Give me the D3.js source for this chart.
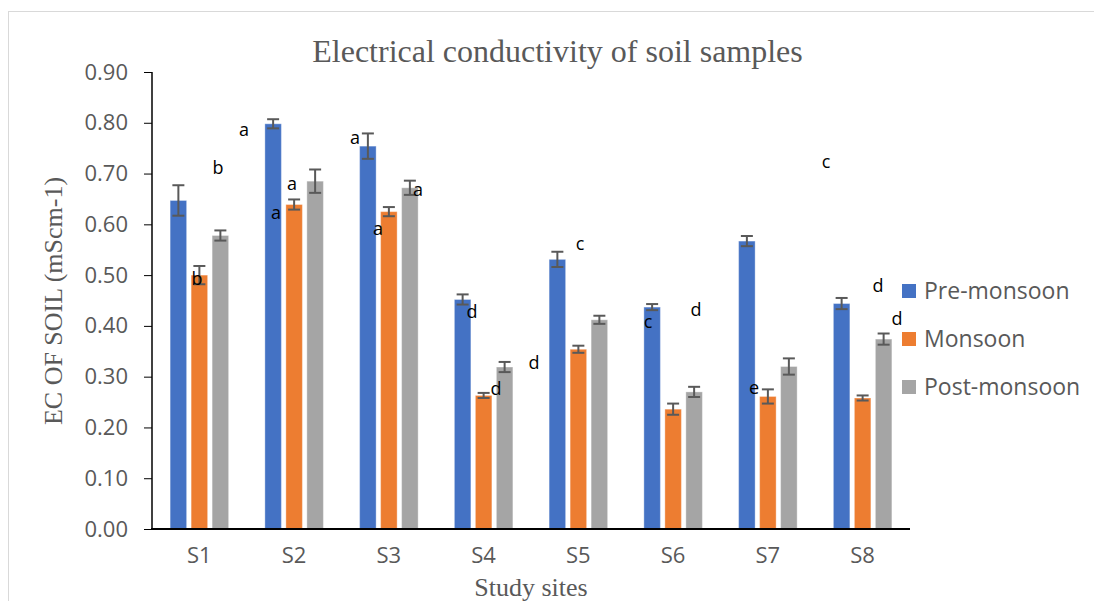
<!DOCTYPE html>
<html>
<head>
<meta charset="utf-8">
<script src="https://cdn.jsdelivr.net/npm/d3@7"></script>
<style>
  html, body { margin: 0; padding: 0; background: #fff; }
  svg { display: block; }
</style>
</head>
<body>
<div id="chart"></div>
<script>
// ---- data ----
const sites = ["S1", "S2", "S3", "S4", "S5", "S6", "S7", "S8"];
const seriesNames = ["Pre-monsoon", "Monsoon", "Post-monsoon"];
const preMonsoon  = [0.647, 0.798, 0.754, 0.452, 0.531, 0.437, 0.567, 0.444];
const monsoon     = [0.500, 0.639, 0.625, 0.263, 0.354, 0.236, 0.261, 0.258];
const postMonsoon = [0.578, 0.685, 0.672, 0.319, 0.412, 0.270, 0.320, 0.374];
const preErr      = [0.030, 0.009, 0.025, 0.010, 0.015, 0.006, 0.010, 0.011];
const monErr      = [0.018, 0.010, 0.009, 0.005, 0.007, 0.011, 0.014, 0.005];
const postErr     = [0.010, 0.023, 0.014, 0.010, 0.008, 0.010, 0.016, 0.011];
const yTicks      = [0, 0.1, 0.2, 0.3, 0.4, 0.5, 0.6, 0.7, 0.8, 0.9];
// letter annotations: label, position in site units (0..8), value units
const annLabels = ["a", "b", "b", "a", "a", "a", "a", "a", "d", "d", "d", "c", "c", "d", "c", "e", "d", "d"];
const annSitePos = [0.971, 0.697, 0.475, 1.478, 1.309, 2.142, 2.807, 2.385, 3.377, 3.631, 4.032, 4.517, 5.235, 5.741, 7.113, 6.354, 7.662, 7.863];
const annValue   = [0.786, 0.711, 0.492, 0.681, 0.622, 0.770, 0.668, 0.591, 0.427, 0.276, 0.327, 0.561, 0.408, 0.431, 0.723, 0.278, 0.479, 0.414];

const colors = ["#4472C4", "#ED7D31", "#A5A5A5"];
const seriesValues = [preMonsoon, monsoon, postMonsoon];
const seriesErrors = [preErr, monErr, postErr];

const W = 1094, H = 601;
const mLeft = 152, mRight = 910, mTop = 72, mBottom = 529;
const textGray = "#595959";

const svg = d3.select("#chart").append("svg")
  .attr("width", W).attr("height", H);

// outer frame
svg.append("rect")
  .attr("x", 8.5).attr("y", 11.5)
  .attr("width", W + 20).attr("height", H + 20)
  .attr("fill", "none").attr("stroke", "#d9d9d9").attr("stroke-width", 1);

const y = d3.scaleLinear().domain([0, 0.9]).range([mBottom, mTop]);
const x0 = d3.scaleBand().domain(sites).range([mLeft, mRight]).padding(0);
const x1 = d3.scaleBand().domain(seriesNames).range([-31.5, 31.5])
  .paddingInner(0.214).paddingOuter(0.107);
const xPos = d3.scaleLinear().domain([0, sites.length]).range([mLeft, mRight]);

// title
svg.append("text")
  .attr("x", 557.5).attr("y", 61.5)
  .attr("text-anchor", "middle")
  .attr("font-family", "'Liberation Serif', 'Times New Roman', serif")
  .attr("font-size", 32).attr("fill", textGray)
  .text("Electrical conductivity of soil samples");

// y axis
const yAxis = d3.axisLeft(y).tickValues(yTicks).tickFormat(d3.format(".2f"))
  .tickSize(8).tickPadding(16);
const gy = svg.append("g").attr("transform", `translate(${mLeft},0)`).call(yAxis);
gy.select(".domain").remove();
gy.selectAll(".tick line").attr("stroke", "#000").attr("stroke-width", 1);
gy.selectAll(".tick text")
  .attr("font-family", "'Open Sans', 'Noto Sans', sans-serif")
  .attr("font-size", 22).attr("fill", textGray);
svg.append("line")
  .attr("x1", mLeft).attr("x2", mLeft).attr("y1", mTop).attr("y2", mBottom)
  .attr("stroke", "#000").attr("stroke-width", 1.5);

// bars
const groups = svg.append("g").selectAll("g")
  .data(sites).join("g")
  .attr("transform", d => `translate(${x0(d) + x0.bandwidth() / 2},0)`);

seriesNames.forEach((s, si) => {
  groups.append("rect")
    .attr("x", x1(s))
    .attr("width", x1.bandwidth())
    .attr("y", (d, i) => y(seriesValues[si][i]))
    .attr("height", (d, i) => mBottom - y(seriesValues[si][i]))
    .attr("fill", colors[si])
    .attr("stroke", "rgba(255,255,255,0.35)").attr("stroke-width", 1);
});

// error bars
seriesNames.forEach((s, si) => {
  const cx = x1(s) + x1.bandwidth() / 2;
  const eb = groups.append("g").attr("stroke", "#595959").attr("stroke-width", 2);
  eb.append("line")
    .attr("x1", cx).attr("x2", cx)
    .attr("y1", (d, i) => y(seriesValues[si][i] + seriesErrors[si][i]))
    .attr("y2", (d, i) => y(seriesValues[si][i] - seriesErrors[si][i]));
  [1, -1].forEach(sign => {
    eb.append("line")
      .attr("x1", cx - 6).attr("x2", cx + 6)
      .attr("y1", (d, i) => y(seriesValues[si][i] + sign * seriesErrors[si][i]))
      .attr("y2", (d, i) => y(seriesValues[si][i] + sign * seriesErrors[si][i]));
  });
});

// x axis
const xAxis = d3.axisBottom(x0).tickSize(0).tickPadding(0);
const gx = svg.append("g").attr("transform", `translate(0,${mBottom})`).call(xAxis);
gx.select(".domain").remove();
gx.selectAll(".tick text")
  .attr("y", 34).attr("dy", 0)
  .attr("font-family", "'Open Sans', 'Noto Sans', sans-serif")
  .attr("font-size", 22).attr("fill", textGray);
svg.append("line")
  .attr("x1", mLeft - 1).attr("x2", mRight).attr("y1", mBottom).attr("y2", mBottom)
  .attr("stroke", "#000").attr("stroke-width", 2);

// axis titles
svg.append("text")
  .attr("x", 531).attr("y", 596)
  .attr("text-anchor", "middle")
  .attr("font-family", "'Liberation Serif', 'Times New Roman', serif")
  .attr("font-size", 26).attr("fill", textGray)
  .text("Study sites");

svg.append("text")
  .attr("transform", `translate(62,301) rotate(-90)`)
  .attr("text-anchor", "middle")
  .attr("font-family", "'Liberation Serif', 'Times New Roman', serif")
  .attr("font-size", 26).attr("fill", textGray)
  .text("EC OF SOIL (mScm-1)");

// annotations
svg.append("g").selectAll("text")
  .data(annLabels).join("text")
  .attr("x", (d, i) => xPos(annSitePos[i]))
  .attr("y", (d, i) => y(annValue[i]))
  .attr("dy", "0.35em")
  .attr("text-anchor", "middle")
  .attr("font-family", "'Open Sans', 'Noto Sans', sans-serif")
  .attr("font-size", 18).attr("fill", "#000")
  .text(d => d);

// legend
const legend = svg.append("g");
const legendY = [291, 339, 387];
seriesNames.forEach((s, si) => {
  legend.append("rect")
    .attr("x", 902).attr("y", legendY[si] - 7)
    .attr("width", 14).attr("height", 14)
    .attr("fill", colors[si]);
  legend.append("text")
    .attr("x", 924).attr("y", legendY[si])
    .attr("dy", "0.35em")
    .attr("font-family", "'Open Sans', 'Noto Sans', sans-serif")
    .attr("font-size", 23).attr("fill", textGray)
    .text(s);
});
</script>
</body>
</html>
